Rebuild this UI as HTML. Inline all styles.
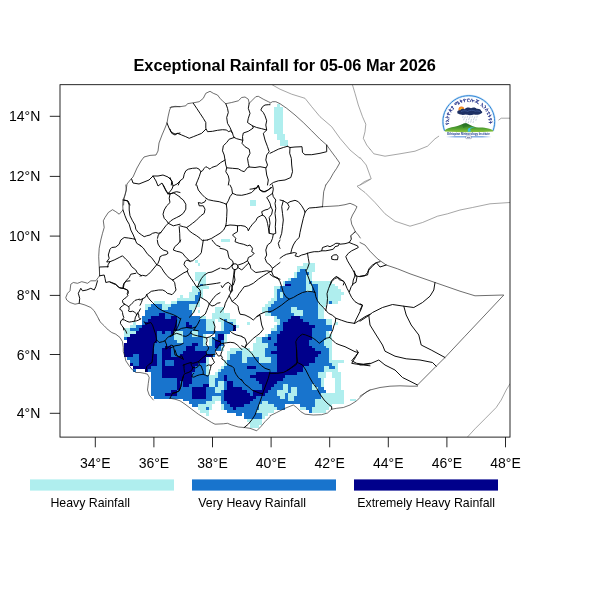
<!DOCTYPE html>
<html><head><meta charset="utf-8"><title>Exceptional Rainfall</title>
<style>
html,body{margin:0;padding:0;background:#fff;}
body{width:600px;height:600px;overflow:hidden;position:relative;font-family:"Liberation Sans",Arial,Helvetica,sans-serif;}
svg{position:absolute;left:0;top:0;}
text{font-family:"Liberation Sans",Arial,Helvetica,sans-serif;fill:#000;}
.t{font-size:14px;}
.lg{font-size:12.33px;}
.ttl{font-size:16.35px;font-weight:bold;}
</style></head><body>
<svg width="600" height="600" viewBox="0 0 600 600">
<rect x="0" y="0" width="600" height="600" fill="#fff"/>
<defs><clipPath id="fc"><rect x="60.0" y="84.7" width="450.0" height="352.4"/></clipPath></defs>

<g shape-rendering="crispEdges">
<rect x="276.66" y="104.08" width="2.93" height="3.02" fill="#afeeee"/>
<rect x="273.73" y="107.10" width="8.79" height="3.02" fill="#afeeee"/>
<rect x="273.73" y="110.12" width="8.79" height="3.02" fill="#afeeee"/>
<rect x="273.73" y="113.15" width="8.79" height="3.02" fill="#afeeee"/>
<rect x="273.73" y="116.17" width="8.79" height="3.02" fill="#afeeee"/>
<rect x="273.73" y="119.18" width="8.79" height="3.02" fill="#afeeee"/>
<rect x="273.73" y="122.20" width="8.79" height="3.02" fill="#afeeee"/>
<rect x="273.73" y="125.22" width="8.79" height="3.02" fill="#afeeee"/>
<rect x="273.73" y="128.23" width="8.79" height="3.01" fill="#afeeee"/>
<rect x="273.73" y="131.25" width="8.79" height="3.01" fill="#afeeee"/>
<rect x="276.66" y="134.26" width="8.79" height="3.01" fill="#afeeee"/>
<rect x="276.66" y="137.27" width="8.79" height="3.01" fill="#afeeee"/>
<rect x="279.59" y="140.28" width="8.79" height="3.01" fill="#afeeee"/>
<rect x="279.59" y="143.29" width="8.79" height="3.01" fill="#afeeee"/>
<rect x="250.29" y="200.24" width="5.86" height="2.99" fill="#afeeee"/>
<rect x="250.29" y="203.23" width="5.86" height="2.99" fill="#afeeee"/>
<rect x="220.99" y="238.99" width="8.79" height="2.97" fill="#afeeee"/>
<rect x="194.62" y="259.78" width="2.93" height="2.97" fill="#afeeee"/>
<rect x="197.55" y="262.75" width="2.93" height="2.97" fill="#afeeee"/>
<rect x="303.03" y="262.75" width="11.72" height="2.97" fill="#afeeee"/>
<rect x="297.17" y="265.72" width="17.58" height="2.97" fill="#afeeee"/>
<rect x="297.17" y="268.68" width="2.93" height="2.97" fill="#afeeee"/>
<rect x="300.10" y="268.68" width="5.86" height="2.97" fill="#1874cd"/>
<rect x="305.96" y="268.68" width="8.79" height="2.97" fill="#afeeee"/>
<rect x="194.62" y="271.65" width="11.72" height="2.96" fill="#afeeee"/>
<rect x="294.24" y="271.65" width="2.93" height="2.96" fill="#afeeee"/>
<rect x="297.17" y="271.65" width="11.72" height="2.96" fill="#1874cd"/>
<rect x="308.89" y="271.65" width="2.93" height="2.96" fill="#afeeee"/>
<rect x="194.62" y="274.61" width="11.72" height="2.96" fill="#afeeee"/>
<rect x="294.24" y="274.61" width="2.93" height="2.96" fill="#afeeee"/>
<rect x="297.17" y="274.61" width="8.79" height="2.96" fill="#1874cd"/>
<rect x="305.96" y="274.61" width="5.86" height="2.96" fill="#afeeee"/>
<rect x="194.62" y="277.58" width="11.72" height="2.96" fill="#afeeee"/>
<rect x="288.38" y="277.58" width="2.93" height="2.96" fill="#afeeee"/>
<rect x="291.31" y="277.58" width="14.65" height="2.96" fill="#1874cd"/>
<rect x="305.96" y="277.58" width="5.86" height="2.96" fill="#afeeee"/>
<rect x="197.55" y="280.54" width="8.79" height="2.96" fill="#afeeee"/>
<rect x="282.52" y="280.54" width="2.93" height="2.96" fill="#afeeee"/>
<rect x="285.45" y="280.54" width="20.51" height="2.96" fill="#1874cd"/>
<rect x="305.96" y="280.54" width="2.93" height="2.96" fill="#afeeee"/>
<rect x="308.89" y="280.54" width="2.93" height="2.96" fill="#1874cd"/>
<rect x="311.82" y="280.54" width="20.51" height="2.96" fill="#afeeee"/>
<rect x="197.55" y="283.50" width="2.93" height="2.96" fill="#afeeee"/>
<rect x="200.48" y="283.50" width="2.93" height="2.96" fill="#1874cd"/>
<rect x="203.41" y="283.50" width="2.93" height="2.96" fill="#afeeee"/>
<rect x="282.52" y="283.50" width="2.93" height="2.96" fill="#afeeee"/>
<rect x="285.45" y="283.50" width="5.86" height="2.96" fill="#00008b"/>
<rect x="291.31" y="283.50" width="14.65" height="2.96" fill="#1874cd"/>
<rect x="305.96" y="283.50" width="5.86" height="2.96" fill="#afeeee"/>
<rect x="311.82" y="283.50" width="5.86" height="2.96" fill="#1874cd"/>
<rect x="317.68" y="283.50" width="17.58" height="2.96" fill="#afeeee"/>
<rect x="191.69" y="286.46" width="17.58" height="2.96" fill="#afeeee"/>
<rect x="273.73" y="286.46" width="5.86" height="2.96" fill="#afeeee"/>
<rect x="279.59" y="286.46" width="26.37" height="2.96" fill="#1874cd"/>
<rect x="305.96" y="286.46" width="5.86" height="2.96" fill="#afeeee"/>
<rect x="311.82" y="286.46" width="5.86" height="2.96" fill="#1874cd"/>
<rect x="317.68" y="286.46" width="20.51" height="2.96" fill="#afeeee"/>
<rect x="191.69" y="289.42" width="11.72" height="2.96" fill="#afeeee"/>
<rect x="273.73" y="289.42" width="2.93" height="2.96" fill="#afeeee"/>
<rect x="276.66" y="289.42" width="29.30" height="2.96" fill="#1874cd"/>
<rect x="305.96" y="289.42" width="5.86" height="2.96" fill="#afeeee"/>
<rect x="311.82" y="289.42" width="5.86" height="2.96" fill="#1874cd"/>
<rect x="317.68" y="289.42" width="23.44" height="2.96" fill="#afeeee"/>
<rect x="188.76" y="292.38" width="8.79" height="2.96" fill="#afeeee"/>
<rect x="197.55" y="292.38" width="2.93" height="2.96" fill="#1874cd"/>
<rect x="200.48" y="292.38" width="2.93" height="2.96" fill="#afeeee"/>
<rect x="273.73" y="292.38" width="2.93" height="2.96" fill="#afeeee"/>
<rect x="276.66" y="292.38" width="2.93" height="2.96" fill="#1874cd"/>
<rect x="279.59" y="292.38" width="2.93" height="2.96" fill="#afeeee"/>
<rect x="282.52" y="292.38" width="35.16" height="2.96" fill="#1874cd"/>
<rect x="317.68" y="292.38" width="26.37" height="2.96" fill="#afeeee"/>
<rect x="179.97" y="295.34" width="2.93" height="2.96" fill="#afeeee"/>
<rect x="188.76" y="295.34" width="5.86" height="2.96" fill="#afeeee"/>
<rect x="194.62" y="295.34" width="5.86" height="2.96" fill="#1874cd"/>
<rect x="200.48" y="295.34" width="2.93" height="2.96" fill="#afeeee"/>
<rect x="273.73" y="295.34" width="2.93" height="2.96" fill="#afeeee"/>
<rect x="276.66" y="295.34" width="2.93" height="2.96" fill="#1874cd"/>
<rect x="279.59" y="295.34" width="2.93" height="2.96" fill="#afeeee"/>
<rect x="282.52" y="295.34" width="35.16" height="2.96" fill="#1874cd"/>
<rect x="317.68" y="295.34" width="23.44" height="2.96" fill="#afeeee"/>
<rect x="177.04" y="298.30" width="17.58" height="2.96" fill="#afeeee"/>
<rect x="194.62" y="298.30" width="5.86" height="2.96" fill="#1874cd"/>
<rect x="270.80" y="298.30" width="5.86" height="2.96" fill="#afeeee"/>
<rect x="276.66" y="298.30" width="41.02" height="2.96" fill="#1874cd"/>
<rect x="317.68" y="298.30" width="23.44" height="2.96" fill="#afeeee"/>
<rect x="153.60" y="301.26" width="11.72" height="2.96" fill="#afeeee"/>
<rect x="171.18" y="301.26" width="5.86" height="2.96" fill="#afeeee"/>
<rect x="177.04" y="301.26" width="20.51" height="2.96" fill="#1874cd"/>
<rect x="197.55" y="301.26" width="2.93" height="2.96" fill="#afeeee"/>
<rect x="267.87" y="301.26" width="5.86" height="2.96" fill="#afeeee"/>
<rect x="273.73" y="301.26" width="43.95" height="2.96" fill="#1874cd"/>
<rect x="317.68" y="301.26" width="11.72" height="2.96" fill="#afeeee"/>
<rect x="329.40" y="301.26" width="2.93" height="2.96" fill="#1874cd"/>
<rect x="332.33" y="301.26" width="5.86" height="2.96" fill="#afeeee"/>
<rect x="144.81" y="304.22" width="5.86" height="2.96" fill="#afeeee"/>
<rect x="150.67" y="304.22" width="11.72" height="2.96" fill="#1874cd"/>
<rect x="162.39" y="304.22" width="8.79" height="2.96" fill="#afeeee"/>
<rect x="171.18" y="304.22" width="17.58" height="2.96" fill="#1874cd"/>
<rect x="188.76" y="304.22" width="11.72" height="2.96" fill="#afeeee"/>
<rect x="264.94" y="304.22" width="5.86" height="2.96" fill="#afeeee"/>
<rect x="270.80" y="304.22" width="46.88" height="2.96" fill="#1874cd"/>
<rect x="317.68" y="304.22" width="8.79" height="2.96" fill="#afeeee"/>
<rect x="144.81" y="307.17" width="2.93" height="2.96" fill="#afeeee"/>
<rect x="147.74" y="307.17" width="14.65" height="2.96" fill="#1874cd"/>
<rect x="162.39" y="307.17" width="5.86" height="2.96" fill="#afeeee"/>
<rect x="168.25" y="307.17" width="20.51" height="2.96" fill="#1874cd"/>
<rect x="188.76" y="307.17" width="5.86" height="2.96" fill="#afeeee"/>
<rect x="215.13" y="307.17" width="8.79" height="2.96" fill="#afeeee"/>
<rect x="262.01" y="307.17" width="5.86" height="2.96" fill="#afeeee"/>
<rect x="267.87" y="307.17" width="23.44" height="2.96" fill="#1874cd"/>
<rect x="291.31" y="307.17" width="5.86" height="2.96" fill="#afeeee"/>
<rect x="297.17" y="307.17" width="20.51" height="2.96" fill="#1874cd"/>
<rect x="317.68" y="307.17" width="5.86" height="2.96" fill="#afeeee"/>
<rect x="144.81" y="310.13" width="46.88" height="2.95" fill="#1874cd"/>
<rect x="191.69" y="310.13" width="2.93" height="2.95" fill="#afeeee"/>
<rect x="197.55" y="310.13" width="2.93" height="2.95" fill="#afeeee"/>
<rect x="215.13" y="310.13" width="8.79" height="2.95" fill="#afeeee"/>
<rect x="262.01" y="310.13" width="5.86" height="2.95" fill="#afeeee"/>
<rect x="267.87" y="310.13" width="23.44" height="2.95" fill="#1874cd"/>
<rect x="291.31" y="310.13" width="11.72" height="2.95" fill="#afeeee"/>
<rect x="303.03" y="310.13" width="14.65" height="2.95" fill="#1874cd"/>
<rect x="317.68" y="310.13" width="5.86" height="2.95" fill="#afeeee"/>
<rect x="144.81" y="313.08" width="14.65" height="2.95" fill="#1874cd"/>
<rect x="159.46" y="313.08" width="5.86" height="2.95" fill="#00008b"/>
<rect x="165.32" y="313.08" width="26.37" height="2.95" fill="#1874cd"/>
<rect x="212.20" y="313.08" width="17.58" height="2.95" fill="#afeeee"/>
<rect x="264.94" y="313.08" width="5.86" height="2.95" fill="#afeeee"/>
<rect x="270.80" y="313.08" width="23.44" height="2.95" fill="#1874cd"/>
<rect x="294.24" y="313.08" width="8.79" height="2.95" fill="#afeeee"/>
<rect x="303.03" y="313.08" width="14.65" height="2.95" fill="#1874cd"/>
<rect x="317.68" y="313.08" width="5.86" height="2.95" fill="#afeeee"/>
<rect x="141.88" y="316.04" width="8.79" height="2.95" fill="#1874cd"/>
<rect x="150.67" y="316.04" width="14.65" height="2.95" fill="#00008b"/>
<rect x="165.32" y="316.04" width="5.86" height="2.95" fill="#1874cd"/>
<rect x="171.18" y="316.04" width="5.86" height="2.95" fill="#00008b"/>
<rect x="177.04" y="316.04" width="23.44" height="2.95" fill="#1874cd"/>
<rect x="200.48" y="316.04" width="5.86" height="2.95" fill="#afeeee"/>
<rect x="212.20" y="316.04" width="17.58" height="2.95" fill="#afeeee"/>
<rect x="273.73" y="316.04" width="2.93" height="2.95" fill="#afeeee"/>
<rect x="276.66" y="316.04" width="14.65" height="2.95" fill="#1874cd"/>
<rect x="291.31" y="316.04" width="8.79" height="2.95" fill="#00008b"/>
<rect x="300.10" y="316.04" width="17.58" height="2.95" fill="#1874cd"/>
<rect x="317.68" y="316.04" width="5.86" height="2.95" fill="#afeeee"/>
<rect x="141.88" y="318.99" width="5.86" height="2.95" fill="#1874cd"/>
<rect x="147.74" y="318.99" width="29.30" height="2.95" fill="#00008b"/>
<rect x="177.04" y="318.99" width="29.30" height="2.95" fill="#1874cd"/>
<rect x="206.34" y="318.99" width="8.79" height="2.95" fill="#afeeee"/>
<rect x="218.06" y="318.99" width="5.86" height="2.95" fill="#afeeee"/>
<rect x="223.92" y="318.99" width="2.93" height="2.95" fill="#1874cd"/>
<rect x="226.85" y="318.99" width="8.79" height="2.95" fill="#afeeee"/>
<rect x="273.73" y="318.99" width="5.86" height="2.95" fill="#afeeee"/>
<rect x="279.59" y="318.99" width="8.79" height="2.95" fill="#1874cd"/>
<rect x="288.38" y="318.99" width="14.65" height="2.95" fill="#00008b"/>
<rect x="303.03" y="318.99" width="23.44" height="2.95" fill="#1874cd"/>
<rect x="326.47" y="318.99" width="5.86" height="2.95" fill="#afeeee"/>
<rect x="133.09" y="321.94" width="2.93" height="2.95" fill="#afeeee"/>
<rect x="141.88" y="321.94" width="2.93" height="2.95" fill="#1874cd"/>
<rect x="144.81" y="321.94" width="32.23" height="2.95" fill="#00008b"/>
<rect x="177.04" y="321.94" width="8.79" height="2.95" fill="#1874cd"/>
<rect x="185.83" y="321.94" width="2.93" height="2.95" fill="#00008b"/>
<rect x="188.76" y="321.94" width="17.58" height="2.95" fill="#1874cd"/>
<rect x="206.34" y="321.94" width="8.79" height="2.95" fill="#afeeee"/>
<rect x="220.99" y="321.94" width="2.93" height="2.95" fill="#afeeee"/>
<rect x="223.92" y="321.94" width="8.79" height="2.95" fill="#1874cd"/>
<rect x="232.71" y="321.94" width="2.93" height="2.95" fill="#afeeee"/>
<rect x="247.36" y="321.94" width="2.93" height="2.95" fill="#afeeee"/>
<rect x="276.66" y="321.94" width="2.93" height="2.95" fill="#afeeee"/>
<rect x="279.59" y="321.94" width="2.93" height="2.95" fill="#1874cd"/>
<rect x="282.52" y="321.94" width="26.37" height="2.95" fill="#00008b"/>
<rect x="308.89" y="321.94" width="17.58" height="2.95" fill="#1874cd"/>
<rect x="326.47" y="321.94" width="5.86" height="2.95" fill="#afeeee"/>
<rect x="335.26" y="321.94" width="2.93" height="2.95" fill="#afeeee"/>
<rect x="130.16" y="324.90" width="5.86" height="2.95" fill="#afeeee"/>
<rect x="136.02" y="324.90" width="5.86" height="2.95" fill="#1874cd"/>
<rect x="141.88" y="324.90" width="35.16" height="2.95" fill="#00008b"/>
<rect x="177.04" y="324.90" width="8.79" height="2.95" fill="#1874cd"/>
<rect x="185.83" y="324.90" width="5.86" height="2.95" fill="#00008b"/>
<rect x="191.69" y="324.90" width="14.65" height="2.95" fill="#1874cd"/>
<rect x="206.34" y="324.90" width="8.79" height="2.95" fill="#afeeee"/>
<rect x="220.99" y="324.90" width="2.93" height="2.95" fill="#afeeee"/>
<rect x="223.92" y="324.90" width="8.79" height="2.95" fill="#1874cd"/>
<rect x="232.71" y="324.90" width="2.93" height="2.95" fill="#00008b"/>
<rect x="235.64" y="324.90" width="2.93" height="2.95" fill="#afeeee"/>
<rect x="273.73" y="324.90" width="2.93" height="2.95" fill="#afeeee"/>
<rect x="276.66" y="324.90" width="5.86" height="2.95" fill="#1874cd"/>
<rect x="282.52" y="324.90" width="32.23" height="2.95" fill="#00008b"/>
<rect x="314.75" y="324.90" width="17.58" height="2.95" fill="#1874cd"/>
<rect x="124.30" y="327.85" width="5.86" height="2.95" fill="#afeeee"/>
<rect x="130.16" y="327.85" width="8.79" height="2.95" fill="#1874cd"/>
<rect x="138.95" y="327.85" width="38.09" height="2.95" fill="#00008b"/>
<rect x="177.04" y="327.85" width="29.30" height="2.95" fill="#1874cd"/>
<rect x="206.34" y="327.85" width="8.79" height="2.95" fill="#afeeee"/>
<rect x="220.99" y="327.85" width="2.93" height="2.95" fill="#afeeee"/>
<rect x="223.92" y="327.85" width="8.79" height="2.95" fill="#1874cd"/>
<rect x="232.71" y="327.85" width="2.93" height="2.95" fill="#00008b"/>
<rect x="270.80" y="327.85" width="5.86" height="2.95" fill="#afeeee"/>
<rect x="276.66" y="327.85" width="5.86" height="2.95" fill="#1874cd"/>
<rect x="282.52" y="327.85" width="29.30" height="2.95" fill="#00008b"/>
<rect x="311.82" y="327.85" width="20.51" height="2.95" fill="#1874cd"/>
<rect x="124.30" y="330.80" width="11.72" height="2.95" fill="#afeeee"/>
<rect x="136.02" y="330.80" width="20.51" height="2.95" fill="#00008b"/>
<rect x="156.53" y="330.80" width="5.86" height="2.95" fill="#1874cd"/>
<rect x="162.39" y="330.80" width="2.93" height="2.95" fill="#00008b"/>
<rect x="165.32" y="330.80" width="5.86" height="2.95" fill="#1874cd"/>
<rect x="171.18" y="330.80" width="2.93" height="2.95" fill="#00008b"/>
<rect x="174.11" y="330.80" width="8.79" height="2.95" fill="#afeeee"/>
<rect x="182.90" y="330.80" width="8.79" height="2.95" fill="#1874cd"/>
<rect x="191.69" y="330.80" width="5.86" height="2.95" fill="#afeeee"/>
<rect x="197.55" y="330.80" width="32.23" height="2.95" fill="#1874cd"/>
<rect x="270.80" y="330.80" width="8.79" height="2.95" fill="#1874cd"/>
<rect x="279.59" y="330.80" width="32.23" height="2.95" fill="#00008b"/>
<rect x="311.82" y="330.80" width="14.65" height="2.95" fill="#1874cd"/>
<rect x="326.47" y="330.80" width="2.93" height="2.95" fill="#afeeee"/>
<rect x="124.30" y="333.75" width="5.86" height="2.95" fill="#afeeee"/>
<rect x="130.16" y="333.75" width="26.37" height="2.95" fill="#00008b"/>
<rect x="156.53" y="333.75" width="17.58" height="2.95" fill="#1874cd"/>
<rect x="174.11" y="333.75" width="8.79" height="2.95" fill="#afeeee"/>
<rect x="182.90" y="333.75" width="8.79" height="2.95" fill="#1874cd"/>
<rect x="191.69" y="333.75" width="5.86" height="2.95" fill="#afeeee"/>
<rect x="197.55" y="333.75" width="5.86" height="2.95" fill="#1874cd"/>
<rect x="203.41" y="333.75" width="2.93" height="2.95" fill="#afeeee"/>
<rect x="215.13" y="333.75" width="2.93" height="2.95" fill="#1874cd"/>
<rect x="218.06" y="333.75" width="5.86" height="2.95" fill="#00008b"/>
<rect x="223.92" y="333.75" width="2.93" height="2.95" fill="#afeeee"/>
<rect x="264.94" y="333.75" width="2.93" height="2.95" fill="#afeeee"/>
<rect x="267.87" y="333.75" width="8.79" height="2.95" fill="#1874cd"/>
<rect x="276.66" y="333.75" width="35.16" height="2.95" fill="#00008b"/>
<rect x="311.82" y="333.75" width="14.65" height="2.95" fill="#1874cd"/>
<rect x="326.47" y="333.75" width="5.86" height="2.95" fill="#afeeee"/>
<rect x="124.30" y="336.70" width="2.93" height="2.95" fill="#1874cd"/>
<rect x="127.23" y="336.70" width="29.30" height="2.95" fill="#00008b"/>
<rect x="156.53" y="336.70" width="17.58" height="2.95" fill="#1874cd"/>
<rect x="174.11" y="336.70" width="8.79" height="2.95" fill="#afeeee"/>
<rect x="182.90" y="336.70" width="20.51" height="2.95" fill="#1874cd"/>
<rect x="203.41" y="336.70" width="2.93" height="2.95" fill="#afeeee"/>
<rect x="209.27" y="336.70" width="2.93" height="2.95" fill="#afeeee"/>
<rect x="212.20" y="336.70" width="5.86" height="2.95" fill="#1874cd"/>
<rect x="218.06" y="336.70" width="5.86" height="2.95" fill="#00008b"/>
<rect x="223.92" y="336.70" width="2.93" height="2.95" fill="#afeeee"/>
<rect x="256.15" y="336.70" width="5.86" height="2.95" fill="#afeeee"/>
<rect x="262.01" y="336.70" width="5.86" height="2.95" fill="#1874cd"/>
<rect x="267.87" y="336.70" width="2.93" height="2.95" fill="#00008b"/>
<rect x="270.80" y="336.70" width="5.86" height="2.95" fill="#1874cd"/>
<rect x="276.66" y="336.70" width="35.16" height="2.95" fill="#00008b"/>
<rect x="311.82" y="336.70" width="14.65" height="2.95" fill="#1874cd"/>
<rect x="326.47" y="336.70" width="5.86" height="2.95" fill="#afeeee"/>
<rect x="127.23" y="339.65" width="29.30" height="2.95" fill="#00008b"/>
<rect x="156.53" y="339.65" width="20.51" height="2.95" fill="#1874cd"/>
<rect x="177.04" y="339.65" width="5.86" height="2.95" fill="#afeeee"/>
<rect x="182.90" y="339.65" width="20.51" height="2.95" fill="#1874cd"/>
<rect x="203.41" y="339.65" width="2.93" height="2.95" fill="#afeeee"/>
<rect x="209.27" y="339.65" width="2.93" height="2.95" fill="#afeeee"/>
<rect x="212.20" y="339.65" width="2.93" height="2.95" fill="#1874cd"/>
<rect x="215.13" y="339.65" width="5.86" height="2.95" fill="#00008b"/>
<rect x="220.99" y="339.65" width="2.93" height="2.95" fill="#1874cd"/>
<rect x="223.92" y="339.65" width="2.93" height="2.95" fill="#afeeee"/>
<rect x="256.15" y="339.65" width="5.86" height="2.95" fill="#afeeee"/>
<rect x="262.01" y="339.65" width="14.65" height="2.95" fill="#1874cd"/>
<rect x="276.66" y="339.65" width="32.23" height="2.95" fill="#00008b"/>
<rect x="308.89" y="339.65" width="14.65" height="2.95" fill="#1874cd"/>
<rect x="323.54" y="339.65" width="8.79" height="2.95" fill="#afeeee"/>
<rect x="124.30" y="342.60" width="29.30" height="2.95" fill="#00008b"/>
<rect x="153.60" y="342.60" width="38.09" height="2.95" fill="#1874cd"/>
<rect x="191.69" y="342.60" width="5.86" height="2.95" fill="#00008b"/>
<rect x="197.55" y="342.60" width="5.86" height="2.95" fill="#1874cd"/>
<rect x="203.41" y="342.60" width="2.93" height="2.95" fill="#afeeee"/>
<rect x="209.27" y="342.60" width="2.93" height="2.95" fill="#afeeee"/>
<rect x="212.20" y="342.60" width="2.93" height="2.95" fill="#1874cd"/>
<rect x="215.13" y="342.60" width="5.86" height="2.95" fill="#00008b"/>
<rect x="220.99" y="342.60" width="2.93" height="2.95" fill="#1874cd"/>
<rect x="253.22" y="342.60" width="14.65" height="2.95" fill="#afeeee"/>
<rect x="267.87" y="342.60" width="5.86" height="2.95" fill="#1874cd"/>
<rect x="273.73" y="342.60" width="35.16" height="2.95" fill="#00008b"/>
<rect x="308.89" y="342.60" width="14.65" height="2.95" fill="#1874cd"/>
<rect x="323.54" y="342.60" width="8.79" height="2.95" fill="#afeeee"/>
<rect x="124.30" y="345.55" width="29.30" height="2.95" fill="#00008b"/>
<rect x="153.60" y="345.55" width="11.72" height="2.95" fill="#1874cd"/>
<rect x="165.32" y="345.55" width="5.86" height="2.95" fill="#00008b"/>
<rect x="171.18" y="345.55" width="14.65" height="2.95" fill="#1874cd"/>
<rect x="185.83" y="345.55" width="8.79" height="2.95" fill="#00008b"/>
<rect x="194.62" y="345.55" width="20.51" height="2.95" fill="#1874cd"/>
<rect x="215.13" y="345.55" width="2.93" height="2.95" fill="#00008b"/>
<rect x="218.06" y="345.55" width="2.93" height="2.95" fill="#1874cd"/>
<rect x="220.99" y="345.55" width="2.93" height="2.95" fill="#afeeee"/>
<rect x="253.22" y="345.55" width="14.65" height="2.95" fill="#afeeee"/>
<rect x="267.87" y="345.55" width="8.79" height="2.95" fill="#1874cd"/>
<rect x="276.66" y="345.55" width="35.16" height="2.95" fill="#00008b"/>
<rect x="311.82" y="345.55" width="14.65" height="2.95" fill="#1874cd"/>
<rect x="326.47" y="345.55" width="5.86" height="2.95" fill="#afeeee"/>
<rect x="124.30" y="348.49" width="29.30" height="2.95" fill="#00008b"/>
<rect x="153.60" y="348.49" width="8.79" height="2.95" fill="#1874cd"/>
<rect x="162.39" y="348.49" width="8.79" height="2.95" fill="#00008b"/>
<rect x="171.18" y="348.49" width="14.65" height="2.95" fill="#1874cd"/>
<rect x="185.83" y="348.49" width="8.79" height="2.95" fill="#00008b"/>
<rect x="194.62" y="348.49" width="26.37" height="2.95" fill="#1874cd"/>
<rect x="220.99" y="348.49" width="2.93" height="2.95" fill="#afeeee"/>
<rect x="229.78" y="348.49" width="20.51" height="2.95" fill="#afeeee"/>
<rect x="253.22" y="348.49" width="11.72" height="2.95" fill="#afeeee"/>
<rect x="264.94" y="348.49" width="11.72" height="2.95" fill="#1874cd"/>
<rect x="276.66" y="348.49" width="38.09" height="2.95" fill="#00008b"/>
<rect x="314.75" y="348.49" width="14.65" height="2.95" fill="#1874cd"/>
<rect x="329.40" y="348.49" width="2.93" height="2.95" fill="#afeeee"/>
<rect x="124.30" y="351.44" width="29.30" height="2.95" fill="#00008b"/>
<rect x="153.60" y="351.44" width="8.79" height="2.95" fill="#1874cd"/>
<rect x="162.39" y="351.44" width="8.79" height="2.95" fill="#00008b"/>
<rect x="171.18" y="351.44" width="11.72" height="2.95" fill="#1874cd"/>
<rect x="182.90" y="351.44" width="23.44" height="2.95" fill="#00008b"/>
<rect x="206.34" y="351.44" width="8.79" height="2.95" fill="#1874cd"/>
<rect x="226.85" y="351.44" width="8.79" height="2.95" fill="#afeeee"/>
<rect x="235.64" y="351.44" width="5.86" height="2.95" fill="#1874cd"/>
<rect x="241.50" y="351.44" width="23.44" height="2.95" fill="#afeeee"/>
<rect x="264.94" y="351.44" width="5.86" height="2.95" fill="#1874cd"/>
<rect x="270.80" y="351.44" width="49.81" height="2.95" fill="#00008b"/>
<rect x="320.61" y="351.44" width="8.79" height="2.95" fill="#1874cd"/>
<rect x="329.40" y="351.44" width="2.93" height="2.95" fill="#afeeee"/>
<rect x="124.30" y="354.39" width="8.79" height="2.95" fill="#00008b"/>
<rect x="133.09" y="354.39" width="5.86" height="2.95" fill="#1874cd"/>
<rect x="138.95" y="354.39" width="17.58" height="2.95" fill="#00008b"/>
<rect x="156.53" y="354.39" width="5.86" height="2.95" fill="#1874cd"/>
<rect x="162.39" y="354.39" width="8.79" height="2.95" fill="#00008b"/>
<rect x="171.18" y="354.39" width="8.79" height="2.95" fill="#1874cd"/>
<rect x="179.97" y="354.39" width="32.23" height="2.95" fill="#00008b"/>
<rect x="212.20" y="354.39" width="2.93" height="2.95" fill="#1874cd"/>
<rect x="226.85" y="354.39" width="2.93" height="2.95" fill="#afeeee"/>
<rect x="229.78" y="354.39" width="11.72" height="2.95" fill="#1874cd"/>
<rect x="241.50" y="354.39" width="23.44" height="2.95" fill="#afeeee"/>
<rect x="264.94" y="354.39" width="11.72" height="2.95" fill="#1874cd"/>
<rect x="276.66" y="354.39" width="41.02" height="2.95" fill="#00008b"/>
<rect x="317.68" y="354.39" width="11.72" height="2.95" fill="#1874cd"/>
<rect x="329.40" y="354.39" width="2.93" height="2.95" fill="#afeeee"/>
<rect x="127.23" y="357.33" width="11.72" height="2.95" fill="#1874cd"/>
<rect x="138.95" y="357.33" width="17.58" height="2.95" fill="#00008b"/>
<rect x="156.53" y="357.33" width="5.86" height="2.95" fill="#1874cd"/>
<rect x="162.39" y="357.33" width="43.95" height="2.95" fill="#00008b"/>
<rect x="206.34" y="357.33" width="2.93" height="2.95" fill="#afeeee"/>
<rect x="226.85" y="357.33" width="2.93" height="2.95" fill="#afeeee"/>
<rect x="229.78" y="357.33" width="11.72" height="2.95" fill="#1874cd"/>
<rect x="241.50" y="357.33" width="5.86" height="2.95" fill="#afeeee"/>
<rect x="247.36" y="357.33" width="11.72" height="2.95" fill="#1874cd"/>
<rect x="259.08" y="357.33" width="11.72" height="2.95" fill="#afeeee"/>
<rect x="270.80" y="357.33" width="5.86" height="2.95" fill="#1874cd"/>
<rect x="276.66" y="357.33" width="38.09" height="2.95" fill="#00008b"/>
<rect x="314.75" y="357.33" width="14.65" height="2.95" fill="#1874cd"/>
<rect x="329.40" y="357.33" width="2.93" height="2.95" fill="#afeeee"/>
<rect x="130.16" y="360.28" width="8.79" height="2.94" fill="#1874cd"/>
<rect x="138.95" y="360.28" width="17.58" height="2.94" fill="#00008b"/>
<rect x="156.53" y="360.28" width="5.86" height="2.94" fill="#1874cd"/>
<rect x="162.39" y="360.28" width="2.93" height="2.94" fill="#00008b"/>
<rect x="165.32" y="360.28" width="8.79" height="2.94" fill="#1874cd"/>
<rect x="174.11" y="360.28" width="32.23" height="2.94" fill="#00008b"/>
<rect x="206.34" y="360.28" width="2.93" height="2.94" fill="#afeeee"/>
<rect x="223.92" y="360.28" width="2.93" height="2.94" fill="#afeeee"/>
<rect x="226.85" y="360.28" width="14.65" height="2.94" fill="#1874cd"/>
<rect x="241.50" y="360.28" width="5.86" height="2.94" fill="#afeeee"/>
<rect x="247.36" y="360.28" width="11.72" height="2.94" fill="#1874cd"/>
<rect x="259.08" y="360.28" width="11.72" height="2.94" fill="#afeeee"/>
<rect x="270.80" y="360.28" width="5.86" height="2.94" fill="#1874cd"/>
<rect x="276.66" y="360.28" width="38.09" height="2.94" fill="#00008b"/>
<rect x="314.75" y="360.28" width="14.65" height="2.94" fill="#1874cd"/>
<rect x="329.40" y="360.28" width="14.65" height="2.94" fill="#afeeee"/>
<rect x="130.16" y="363.22" width="2.93" height="2.94" fill="#00008b"/>
<rect x="133.09" y="363.22" width="5.86" height="2.94" fill="#1874cd"/>
<rect x="138.95" y="363.22" width="17.58" height="2.94" fill="#00008b"/>
<rect x="156.53" y="363.22" width="5.86" height="2.94" fill="#1874cd"/>
<rect x="162.39" y="363.22" width="2.93" height="2.94" fill="#00008b"/>
<rect x="165.32" y="363.22" width="8.79" height="2.94" fill="#1874cd"/>
<rect x="174.11" y="363.22" width="23.44" height="2.94" fill="#00008b"/>
<rect x="197.55" y="363.22" width="8.79" height="2.94" fill="#1874cd"/>
<rect x="206.34" y="363.22" width="2.93" height="2.94" fill="#afeeee"/>
<rect x="223.92" y="363.22" width="2.93" height="2.94" fill="#afeeee"/>
<rect x="226.85" y="363.22" width="49.81" height="2.94" fill="#1874cd"/>
<rect x="276.66" y="363.22" width="32.23" height="2.94" fill="#00008b"/>
<rect x="308.89" y="363.22" width="23.44" height="2.94" fill="#1874cd"/>
<rect x="332.33" y="363.22" width="5.86" height="2.94" fill="#afeeee"/>
<rect x="133.09" y="366.17" width="17.58" height="2.94" fill="#00008b"/>
<rect x="150.67" y="366.17" width="11.72" height="2.94" fill="#1874cd"/>
<rect x="162.39" y="366.17" width="32.23" height="2.94" fill="#00008b"/>
<rect x="194.62" y="366.17" width="11.72" height="2.94" fill="#1874cd"/>
<rect x="206.34" y="366.17" width="2.93" height="2.94" fill="#afeeee"/>
<rect x="220.99" y="366.17" width="2.93" height="2.94" fill="#afeeee"/>
<rect x="223.92" y="366.17" width="23.44" height="2.94" fill="#1874cd"/>
<rect x="247.36" y="366.17" width="8.79" height="2.94" fill="#00008b"/>
<rect x="256.15" y="366.17" width="20.51" height="2.94" fill="#1874cd"/>
<rect x="276.66" y="366.17" width="26.37" height="2.94" fill="#00008b"/>
<rect x="303.03" y="366.17" width="20.51" height="2.94" fill="#1874cd"/>
<rect x="323.54" y="366.17" width="5.86" height="2.94" fill="#afeeee"/>
<rect x="329.40" y="366.17" width="5.86" height="2.94" fill="#1874cd"/>
<rect x="335.26" y="366.17" width="2.93" height="2.94" fill="#afeeee"/>
<rect x="133.09" y="369.11" width="2.93" height="2.94" fill="#1874cd"/>
<rect x="144.81" y="369.11" width="2.93" height="2.94" fill="#00008b"/>
<rect x="147.74" y="369.11" width="14.65" height="2.94" fill="#1874cd"/>
<rect x="162.39" y="369.11" width="32.23" height="2.94" fill="#00008b"/>
<rect x="194.62" y="369.11" width="11.72" height="2.94" fill="#1874cd"/>
<rect x="206.34" y="369.11" width="2.93" height="2.94" fill="#afeeee"/>
<rect x="218.06" y="369.11" width="2.93" height="2.94" fill="#afeeee"/>
<rect x="220.99" y="369.11" width="55.67" height="2.94" fill="#1874cd"/>
<rect x="276.66" y="369.11" width="26.37" height="2.94" fill="#00008b"/>
<rect x="303.03" y="369.11" width="20.51" height="2.94" fill="#1874cd"/>
<rect x="323.54" y="369.11" width="14.65" height="2.94" fill="#afeeee"/>
<rect x="150.67" y="372.05" width="11.72" height="2.94" fill="#1874cd"/>
<rect x="162.39" y="372.05" width="29.30" height="2.94" fill="#00008b"/>
<rect x="191.69" y="372.05" width="14.65" height="2.94" fill="#1874cd"/>
<rect x="206.34" y="372.05" width="2.93" height="2.94" fill="#afeeee"/>
<rect x="215.13" y="372.05" width="2.93" height="2.94" fill="#afeeee"/>
<rect x="218.06" y="372.05" width="38.09" height="2.94" fill="#1874cd"/>
<rect x="256.15" y="372.05" width="41.02" height="2.94" fill="#00008b"/>
<rect x="297.17" y="372.05" width="20.51" height="2.94" fill="#1874cd"/>
<rect x="317.68" y="372.05" width="8.79" height="2.94" fill="#afeeee"/>
<rect x="332.33" y="372.05" width="8.79" height="2.94" fill="#afeeee"/>
<rect x="150.67" y="375.00" width="11.72" height="2.94" fill="#1874cd"/>
<rect x="162.39" y="375.00" width="29.30" height="2.94" fill="#00008b"/>
<rect x="191.69" y="375.00" width="17.58" height="2.94" fill="#1874cd"/>
<rect x="209.27" y="375.00" width="8.79" height="2.94" fill="#afeeee"/>
<rect x="218.06" y="375.00" width="5.86" height="2.94" fill="#1874cd"/>
<rect x="223.92" y="375.00" width="2.93" height="2.94" fill="#00008b"/>
<rect x="226.85" y="375.00" width="23.44" height="2.94" fill="#1874cd"/>
<rect x="250.29" y="375.00" width="35.16" height="2.94" fill="#00008b"/>
<rect x="285.45" y="375.00" width="32.23" height="2.94" fill="#1874cd"/>
<rect x="317.68" y="375.00" width="8.79" height="2.94" fill="#afeeee"/>
<rect x="332.33" y="375.00" width="8.79" height="2.94" fill="#afeeee"/>
<rect x="150.67" y="377.94" width="26.37" height="2.94" fill="#1874cd"/>
<rect x="177.04" y="377.94" width="14.65" height="2.94" fill="#00008b"/>
<rect x="191.69" y="377.94" width="17.58" height="2.94" fill="#1874cd"/>
<rect x="209.27" y="377.94" width="5.86" height="2.94" fill="#afeeee"/>
<rect x="215.13" y="377.94" width="8.79" height="2.94" fill="#1874cd"/>
<rect x="223.92" y="377.94" width="2.93" height="2.94" fill="#00008b"/>
<rect x="226.85" y="377.94" width="29.30" height="2.94" fill="#1874cd"/>
<rect x="256.15" y="377.94" width="26.37" height="2.94" fill="#00008b"/>
<rect x="282.52" y="377.94" width="38.09" height="2.94" fill="#1874cd"/>
<rect x="320.61" y="377.94" width="2.93" height="2.94" fill="#afeeee"/>
<rect x="335.26" y="377.94" width="5.86" height="2.94" fill="#afeeee"/>
<rect x="150.67" y="380.88" width="26.37" height="2.94" fill="#1874cd"/>
<rect x="177.04" y="380.88" width="2.93" height="2.94" fill="#00008b"/>
<rect x="179.97" y="380.88" width="2.93" height="2.94" fill="#1874cd"/>
<rect x="182.90" y="380.88" width="8.79" height="2.94" fill="#00008b"/>
<rect x="191.69" y="380.88" width="17.58" height="2.94" fill="#1874cd"/>
<rect x="209.27" y="380.88" width="5.86" height="2.94" fill="#afeeee"/>
<rect x="215.13" y="380.88" width="2.93" height="2.94" fill="#1874cd"/>
<rect x="218.06" y="380.88" width="5.86" height="2.94" fill="#afeeee"/>
<rect x="223.92" y="380.88" width="2.93" height="2.94" fill="#1874cd"/>
<rect x="226.85" y="380.88" width="5.86" height="2.94" fill="#00008b"/>
<rect x="232.71" y="380.88" width="26.37" height="2.94" fill="#1874cd"/>
<rect x="259.08" y="380.88" width="17.58" height="2.94" fill="#00008b"/>
<rect x="276.66" y="380.88" width="43.95" height="2.94" fill="#1874cd"/>
<rect x="320.61" y="380.88" width="2.93" height="2.94" fill="#afeeee"/>
<rect x="335.26" y="380.88" width="5.86" height="2.94" fill="#afeeee"/>
<rect x="150.67" y="383.82" width="26.37" height="2.94" fill="#1874cd"/>
<rect x="177.04" y="383.82" width="2.93" height="2.94" fill="#00008b"/>
<rect x="179.97" y="383.82" width="2.93" height="2.94" fill="#1874cd"/>
<rect x="182.90" y="383.82" width="5.86" height="2.94" fill="#00008b"/>
<rect x="188.76" y="383.82" width="14.65" height="2.94" fill="#1874cd"/>
<rect x="203.41" y="383.82" width="5.86" height="2.94" fill="#00008b"/>
<rect x="209.27" y="383.82" width="5.86" height="2.94" fill="#afeeee"/>
<rect x="215.13" y="383.82" width="2.93" height="2.94" fill="#1874cd"/>
<rect x="218.06" y="383.82" width="5.86" height="2.94" fill="#afeeee"/>
<rect x="223.92" y="383.82" width="2.93" height="2.94" fill="#1874cd"/>
<rect x="226.85" y="383.82" width="5.86" height="2.94" fill="#00008b"/>
<rect x="232.71" y="383.82" width="29.30" height="2.94" fill="#1874cd"/>
<rect x="262.01" y="383.82" width="11.72" height="2.94" fill="#00008b"/>
<rect x="273.73" y="383.82" width="8.79" height="2.94" fill="#1874cd"/>
<rect x="282.52" y="383.82" width="5.86" height="2.94" fill="#afeeee"/>
<rect x="288.38" y="383.82" width="23.44" height="2.94" fill="#1874cd"/>
<rect x="311.82" y="383.82" width="2.93" height="2.94" fill="#afeeee"/>
<rect x="314.75" y="383.82" width="5.86" height="2.94" fill="#1874cd"/>
<rect x="320.61" y="383.82" width="2.93" height="2.94" fill="#afeeee"/>
<rect x="335.26" y="383.82" width="5.86" height="2.94" fill="#afeeee"/>
<rect x="150.67" y="386.76" width="26.37" height="2.94" fill="#1874cd"/>
<rect x="177.04" y="386.76" width="2.93" height="2.94" fill="#00008b"/>
<rect x="179.97" y="386.76" width="11.72" height="2.94" fill="#1874cd"/>
<rect x="191.69" y="386.76" width="14.65" height="2.94" fill="#00008b"/>
<rect x="206.34" y="386.76" width="8.79" height="2.94" fill="#1874cd"/>
<rect x="215.13" y="386.76" width="8.79" height="2.94" fill="#afeeee"/>
<rect x="223.92" y="386.76" width="2.93" height="2.94" fill="#1874cd"/>
<rect x="226.85" y="386.76" width="14.65" height="2.94" fill="#00008b"/>
<rect x="241.50" y="386.76" width="20.51" height="2.94" fill="#1874cd"/>
<rect x="262.01" y="386.76" width="8.79" height="2.94" fill="#00008b"/>
<rect x="270.80" y="386.76" width="11.72" height="2.94" fill="#1874cd"/>
<rect x="282.52" y="386.76" width="5.86" height="2.94" fill="#afeeee"/>
<rect x="288.38" y="386.76" width="2.93" height="2.94" fill="#1874cd"/>
<rect x="291.31" y="386.76" width="5.86" height="2.94" fill="#afeeee"/>
<rect x="297.17" y="386.76" width="14.65" height="2.94" fill="#1874cd"/>
<rect x="311.82" y="386.76" width="5.86" height="2.94" fill="#afeeee"/>
<rect x="317.68" y="386.76" width="5.86" height="2.94" fill="#1874cd"/>
<rect x="335.26" y="386.76" width="5.86" height="2.94" fill="#afeeee"/>
<rect x="150.67" y="389.70" width="20.51" height="2.94" fill="#1874cd"/>
<rect x="171.18" y="389.70" width="5.86" height="2.94" fill="#00008b"/>
<rect x="177.04" y="389.70" width="14.65" height="2.94" fill="#1874cd"/>
<rect x="191.69" y="389.70" width="14.65" height="2.94" fill="#00008b"/>
<rect x="206.34" y="389.70" width="8.79" height="2.94" fill="#1874cd"/>
<rect x="215.13" y="389.70" width="5.86" height="2.94" fill="#afeeee"/>
<rect x="220.99" y="389.70" width="2.93" height="2.94" fill="#1874cd"/>
<rect x="223.92" y="389.70" width="23.44" height="2.94" fill="#00008b"/>
<rect x="247.36" y="389.70" width="5.86" height="2.94" fill="#1874cd"/>
<rect x="253.22" y="389.70" width="14.65" height="2.94" fill="#00008b"/>
<rect x="267.87" y="389.70" width="8.79" height="2.94" fill="#1874cd"/>
<rect x="276.66" y="389.70" width="11.72" height="2.94" fill="#afeeee"/>
<rect x="288.38" y="389.70" width="2.93" height="2.94" fill="#1874cd"/>
<rect x="291.31" y="389.70" width="5.86" height="2.94" fill="#afeeee"/>
<rect x="297.17" y="389.70" width="29.30" height="2.94" fill="#1874cd"/>
<rect x="335.26" y="389.70" width="8.79" height="2.94" fill="#afeeee"/>
<rect x="150.67" y="392.64" width="14.65" height="2.94" fill="#1874cd"/>
<rect x="165.32" y="392.64" width="11.72" height="2.94" fill="#00008b"/>
<rect x="177.04" y="392.64" width="14.65" height="2.94" fill="#1874cd"/>
<rect x="191.69" y="392.64" width="14.65" height="2.94" fill="#00008b"/>
<rect x="206.34" y="392.64" width="17.58" height="2.94" fill="#1874cd"/>
<rect x="223.92" y="392.64" width="26.37" height="2.94" fill="#00008b"/>
<rect x="250.29" y="392.64" width="2.93" height="2.94" fill="#1874cd"/>
<rect x="253.22" y="392.64" width="11.72" height="2.94" fill="#00008b"/>
<rect x="264.94" y="392.64" width="11.72" height="2.94" fill="#1874cd"/>
<rect x="276.66" y="392.64" width="8.79" height="2.94" fill="#afeeee"/>
<rect x="285.45" y="392.64" width="2.93" height="2.94" fill="#1874cd"/>
<rect x="288.38" y="392.64" width="8.79" height="2.94" fill="#afeeee"/>
<rect x="297.17" y="392.64" width="23.44" height="2.94" fill="#1874cd"/>
<rect x="320.61" y="392.64" width="23.44" height="2.94" fill="#afeeee"/>
<rect x="153.60" y="395.58" width="38.09" height="2.94" fill="#1874cd"/>
<rect x="191.69" y="395.58" width="14.65" height="2.94" fill="#00008b"/>
<rect x="206.34" y="395.58" width="5.86" height="2.94" fill="#1874cd"/>
<rect x="212.20" y="395.58" width="8.79" height="2.94" fill="#afeeee"/>
<rect x="220.99" y="395.58" width="2.93" height="2.94" fill="#1874cd"/>
<rect x="223.92" y="395.58" width="32.23" height="2.94" fill="#00008b"/>
<rect x="256.15" y="395.58" width="23.44" height="2.94" fill="#1874cd"/>
<rect x="279.59" y="395.58" width="5.86" height="2.94" fill="#afeeee"/>
<rect x="285.45" y="395.58" width="2.93" height="2.94" fill="#1874cd"/>
<rect x="288.38" y="395.58" width="5.86" height="2.94" fill="#afeeee"/>
<rect x="294.24" y="395.58" width="26.37" height="2.94" fill="#1874cd"/>
<rect x="320.61" y="395.58" width="23.44" height="2.94" fill="#afeeee"/>
<rect x="182.90" y="398.52" width="29.30" height="2.94" fill="#1874cd"/>
<rect x="212.20" y="398.52" width="8.79" height="2.94" fill="#afeeee"/>
<rect x="220.99" y="398.52" width="2.93" height="2.94" fill="#1874cd"/>
<rect x="223.92" y="398.52" width="29.30" height="2.94" fill="#00008b"/>
<rect x="253.22" y="398.52" width="35.16" height="2.94" fill="#1874cd"/>
<rect x="288.38" y="398.52" width="5.86" height="2.94" fill="#afeeee"/>
<rect x="294.24" y="398.52" width="20.51" height="2.94" fill="#1874cd"/>
<rect x="314.75" y="398.52" width="29.30" height="2.94" fill="#afeeee"/>
<rect x="349.91" y="398.52" width="5.86" height="2.94" fill="#afeeee"/>
<rect x="188.76" y="401.46" width="17.58" height="2.94" fill="#1874cd"/>
<rect x="206.34" y="401.46" width="8.79" height="2.94" fill="#afeeee"/>
<rect x="220.99" y="401.46" width="5.86" height="2.94" fill="#1874cd"/>
<rect x="226.85" y="401.46" width="23.44" height="2.94" fill="#00008b"/>
<rect x="250.29" y="401.46" width="11.72" height="2.94" fill="#1874cd"/>
<rect x="262.01" y="401.46" width="5.86" height="2.94" fill="#afeeee"/>
<rect x="267.87" y="401.46" width="46.88" height="2.94" fill="#1874cd"/>
<rect x="314.75" y="401.46" width="29.30" height="2.94" fill="#afeeee"/>
<rect x="191.69" y="404.40" width="5.86" height="2.94" fill="#1874cd"/>
<rect x="197.55" y="404.40" width="14.65" height="2.94" fill="#afeeee"/>
<rect x="220.99" y="404.40" width="2.93" height="2.94" fill="#afeeee"/>
<rect x="223.92" y="404.40" width="5.86" height="2.94" fill="#1874cd"/>
<rect x="229.78" y="404.40" width="14.65" height="2.94" fill="#00008b"/>
<rect x="244.43" y="404.40" width="14.65" height="2.94" fill="#1874cd"/>
<rect x="259.08" y="404.40" width="14.65" height="2.94" fill="#afeeee"/>
<rect x="273.73" y="404.40" width="11.72" height="2.94" fill="#1874cd"/>
<rect x="300.10" y="404.40" width="14.65" height="2.94" fill="#1874cd"/>
<rect x="314.75" y="404.40" width="17.58" height="2.94" fill="#afeeee"/>
<rect x="197.55" y="407.34" width="8.79" height="2.94" fill="#afeeee"/>
<rect x="206.34" y="407.34" width="2.93" height="2.94" fill="#1874cd"/>
<rect x="209.27" y="407.34" width="2.93" height="2.94" fill="#afeeee"/>
<rect x="220.99" y="407.34" width="2.93" height="2.94" fill="#afeeee"/>
<rect x="223.92" y="407.34" width="8.79" height="2.94" fill="#1874cd"/>
<rect x="232.71" y="407.34" width="2.93" height="2.94" fill="#00008b"/>
<rect x="235.64" y="407.34" width="23.44" height="2.94" fill="#1874cd"/>
<rect x="259.08" y="407.34" width="17.58" height="2.94" fill="#afeeee"/>
<rect x="276.66" y="407.34" width="8.79" height="2.94" fill="#1874cd"/>
<rect x="300.10" y="407.34" width="5.86" height="2.94" fill="#afeeee"/>
<rect x="305.96" y="407.34" width="5.86" height="2.94" fill="#1874cd"/>
<rect x="311.82" y="407.34" width="17.58" height="2.94" fill="#afeeee"/>
<rect x="200.48" y="410.28" width="8.79" height="2.94" fill="#afeeee"/>
<rect x="226.85" y="410.28" width="29.30" height="2.94" fill="#1874cd"/>
<rect x="256.15" y="410.28" width="17.58" height="2.94" fill="#afeeee"/>
<rect x="308.89" y="410.28" width="2.93" height="2.94" fill="#1874cd"/>
<rect x="311.82" y="410.28" width="14.65" height="2.94" fill="#afeeee"/>
<rect x="206.34" y="413.21" width="2.93" height="2.94" fill="#afeeee"/>
<rect x="235.64" y="413.21" width="5.86" height="2.94" fill="#1874cd"/>
<rect x="244.43" y="413.21" width="17.58" height="2.94" fill="#1874cd"/>
<rect x="262.01" y="413.21" width="5.86" height="2.94" fill="#afeeee"/>
<rect x="244.43" y="416.15" width="17.58" height="2.94" fill="#1874cd"/>
<rect x="262.01" y="416.15" width="2.93" height="2.94" fill="#afeeee"/>
<rect x="247.36" y="419.09" width="14.65" height="2.94" fill="#afeeee"/>
<rect x="250.29" y="422.02" width="11.72" height="2.94" fill="#afeeee"/>
<rect x="250.29" y="424.96" width="8.79" height="2.94" fill="#afeeee"/>
</g>
<g clip-path="url(#fc)" fill="none" stroke-linejoin="round" stroke-linecap="round">
<path stroke="#808080" stroke-width="0.7" d="M272.5 85.0 L280.0 89.2 L291.7 94.2 L305.0 98.3 L311.7 106.7 L320.0 116.7 L331.7 126.7 L340.0 138.3 L350.0 150.0 L360.0 158.3 M352.5 85.0 L355.0 93.3 L358.3 105.0 L362.5 116.7 L365.8 124.2 L365.0 131.7 L363.3 138.3 L366.7 145.0 L370.0 149.2 M370.0 179.2 L364.2 181.7 L360.0 185.0 M370.0 149.0 L373.8 153.8 L385.0 156.2 L400.0 153.8 L415.0 151.2 L427.5 146.2 L435.0 138.8 L438.8 136.2 M498.8 120.0 L501.2 118.2 L510.0 118.2 M360.0 157.5 L366.2 165.0 L371.2 178.8 L365.0 182.5 L360.0 185.0 L357.0 186.2 L360.0 188.8 M360.0 188.8 L365.0 192.5 L375.0 202.5 L385.0 213.8 L395.0 221.2 L410.0 226.2 L422.5 222.5 L437.5 216.2 L447.5 213.8 L460.0 210.0 L472.5 207.5 L490.0 203.8 L510.0 202.5 M510.0 383.8 L506.2 390.0 L501.2 400.0 L496.2 407.5 L485.0 418.8 L475.0 428.8 L467.5 437.0"/>
<path stroke="#2a2a2a" stroke-width="0.68" d="M123.6 205.0 L124.0 199.0 L126.0 191.0 L127.0 184.0 L131.0 179.0 L133.0 177.0 L137.0 168.0 L141.0 161.0 L144.0 157.0 L150.0 155.4 L156.0 155.0 L158.0 151.0 L159.0 143.0 L162.0 135.0 L165.0 128.0 L167.0 123.0 L168.0 117.0 L169.6 110.0 L171.0 107.0 L180.0 106.6 M170.0 107.5 L175.0 106.3 L180.0 106.7 L185.8 105.8 L187.5 103.7 L191.7 103.0 L195.0 102.5 L199.2 101.7 L203.3 98.3 L205.8 93.3 L210.0 91.3 L213.3 93.3 L217.5 95.0 L220.0 98.3 L223.3 101.7 L225.8 103.7 L231.7 102.5 L238.3 100.8 L241.7 97.5 L245.0 97.0 L248.3 99.2 L249.2 103.3 L251.7 100.8 L255.8 96.7 L258.3 96.3 L263.3 99.2 L268.3 101.7 L270.0 102.5 M270.0 103.3 L272.5 101.7 L275.8 101.7 L280.0 103.7 L286.7 108.3 L295.0 115.0 L303.3 122.5 L311.7 130.8 L320.0 139.2 L326.7 145.0 L330.8 150.8 L335.8 157.5 L339.7 163.0 L336.7 168.3 L333.3 173.3 L330.0 179.2 L325.8 185.0 M99.5 267.5 L99.5 275.8 L98.3 277.5 L95.8 280.8 L90.8 280.8 L87.5 283.3 L85.0 282.5 L81.7 281.7 L77.5 283.3 L73.3 282.5 L70.8 284.2 L70.0 290.8 L67.5 293.3 L65.8 297.5 L66.7 300.0 L70.0 302.5 L75.0 304.2 L79.2 303.3 L85.0 305.0 L90.8 307.5 L94.2 310.8 L97.5 316.7 L99.2 320.0 M125.8 185.0 L126.3 190.0 L125.0 195.0 L123.0 200.0 L122.7 205.0 L123.0 210.0 L119.2 214.2 L115.8 211.7 L112.5 209.7 L108.3 212.5 L105.0 217.5 L103.3 220.8 L104.2 227.5 L102.5 233.3 L100.8 240.0 L99.2 248.3 L98.7 256.7 L99.2 266.7 L99.7 275.8 M325.8 185.0 L323.7 191.7 L323.0 200.0 L322.5 206.7 M322.5 206.7 L330.0 206.3 L338.3 205.8 L345.0 204.7 L350.0 203.3 L354.2 205.0 L357.0 206.7 L355.0 210.8 L352.5 215.0 L350.8 219.2 L351.7 224.2 L354.2 229.2 L355.3 231.7 L358.3 235.0 L360.3 238.0 M360.0 242.5 L365.0 245.0 L370.0 251.2 L377.5 258.8 L386.2 265.0 L397.5 268.8 L410.0 273.8 L435.0 282.5 L460.0 291.2 L475.0 295.8 L503.8 295.0 L485.0 315.0 L465.0 336.2 L445.0 357.5 L436.2 366.2 L417.5 385.0 M417.5 386.2 L410.0 386.2 L400.0 385.8 L390.0 386.2 L380.0 387.5 L370.0 390.0 L362.5 394.5 L360.0 396.2 M99.2 320.0 L100.0 321.7 L104.2 325.8 L108.3 330.0 L111.7 332.5 L115.8 334.2 L120.0 337.5 L122.5 341.7 L123.3 347.5 L123.3 351.7 L125.0 356.7 L125.8 360.8 L129.2 365.8 L132.5 370.0 L135.8 372.5 L140.0 372.5 L144.2 373.3 L147.5 374.2 L149.2 377.5 L148.3 383.3 L147.5 390.0 L149.2 395.0 L153.3 400.0 M170.0 398.3 L175.0 399.2 L180.0 400.8 L185.0 404.2 L191.7 409.2 L198.3 414.2 L205.0 418.3 L211.7 422.5 L215.0 424.2 L223.3 423.8 L227.5 423.3 L231.7 425.0 L238.3 427.0 L244.2 427.5 L250.0 428.3 L256.7 430.8 L260.8 426.7 L265.0 421.7 L270.0 416.7 M270.0 415.8 L276.7 412.5 L285.0 408.3 L293.3 405.0 L296.7 407.5 L300.8 411.7 L305.0 414.2 L313.3 415.0 L321.7 414.7 L327.5 413.0 L331.7 409.2 L336.7 408.3 L343.3 407.5 L350.0 405.0 L356.7 400.8 L361.7 395.8 L366.7 391.7 L370.0 390.0"/>
<path stroke="#000" stroke-width="0.95" d="M167.0 123.0 L169.0 128.0 L171.0 132.0 L175.0 134.0 L180.0 133.0 M131.6 179.0 L133.0 183.0 L139.0 184.0 L144.0 182.0 L149.0 180.0 L153.0 176.0 L158.0 176.0 L163.0 175.0 L168.0 177.0 L172.0 181.0 L173.0 186.0 L177.0 184.0 L180.0 181.0 M153.0 176.0 L156.0 181.0 L158.0 186.0 L162.0 183.0 L164.0 187.0 L166.0 191.0 L168.0 194.0 L172.0 189.0 L173.0 186.0 M168.0 194.0 L174.0 193.0 L180.0 197.0 M124.0 200.0 L128.0 201.0 L130.0 205.0 M193.3 103.3 L196.7 108.3 L200.0 113.3 L203.3 118.3 L205.8 122.5 L205.8 128.3 L207.5 131.7 L212.5 131.3 L217.5 130.3 L222.5 129.7 L226.7 130.0 L228.3 131.7 L230.8 130.8 L232.5 133.3 L233.3 135.8 L234.2 137.5 M170.0 129.2 L171.7 133.3 L175.0 135.0 L177.5 133.3 L181.7 135.0 L185.8 136.7 L189.2 138.3 L193.3 136.7 L197.5 135.0 L201.7 133.3 L205.8 129.2 M225.8 103.7 L227.5 108.3 L228.3 112.5 L226.7 117.5 L227.5 123.3 L230.0 127.5 L232.5 133.3 M249.2 103.3 L248.3 108.3 L250.0 113.3 L248.3 118.3 L247.5 122.5 L252.5 125.8 L253.3 128.0 L248.3 131.3 L243.3 133.0 L242.5 136.7 L242.8 140.3 L236.7 138.7 L234.2 137.5 M252.5 125.8 L256.7 127.5 L261.7 128.7 L266.7 130.0 L265.8 125.0 L266.7 120.8 L265.0 115.8 L263.3 112.5 L260.8 110.0 L262.5 106.7 L265.0 105.0 L268.3 104.7 L270.0 104.7 M266.7 130.0 L263.3 133.3 L265.0 140.0 L267.5 146.7 L269.2 151.7 L266.7 155.0 L265.8 160.0 L267.5 165.0 L265.8 168.3 L266.7 175.0 L268.3 180.0 L267.5 185.0 M234.2 137.5 L229.2 139.2 L226.7 142.5 L223.3 145.8 L222.5 150.8 L224.2 155.0 L225.0 160.0 L225.8 165.0 L226.7 167.8 L232.5 168.3 L238.3 168.8 L241.7 170.8 L244.2 171.7 L247.5 167.5 L249.2 167.0 L248.3 163.3 L247.5 158.3 L250.0 153.3 L249.2 149.2 L245.0 146.7 L242.0 143.3 L242.8 140.3 M249.2 167.0 L255.0 167.5 L260.0 166.7 L265.8 167.8 M226.7 167.8 L225.8 171.7 L228.3 175.8 L229.2 180.0 L228.3 185.0 M225.0 160.0 L220.8 162.5 L216.7 165.8 L211.7 167.5 L210.0 169.2 L207.5 167.5 L205.8 166.7 L204.2 168.3 L202.5 170.8 L200.8 171.7 L199.2 169.2 L196.7 168.0 L192.5 168.3 L188.3 169.2 L185.8 170.8 L184.2 174.2 L183.3 178.3 L180.0 180.8 L178.3 185.0 M200.8 171.7 L199.2 176.7 L197.5 180.8 L195.8 185.0 M170.0 177.5 L171.7 181.7 L171.3 185.0 M326.7 145.0 L326.7 151.7 L320.0 153.3 L311.7 154.7 L305.0 154.7 L302.5 152.5 L302.0 146.7 L295.0 147.0 L290.0 147.5 L287.5 146.3 M270.0 153.3 L273.3 151.7 L278.3 149.2 L283.3 147.5 L287.5 146.3 M290.0 147.5 L289.7 153.3 L291.3 158.3 L291.7 165.0 L292.5 171.7 L290.8 177.5 L285.0 180.0 L278.3 180.8 L273.3 182.5 L270.0 185.0 M79.2 303.3 L79.7 298.3 L78.3 293.3 L80.8 288.3 L82.5 290.8 L86.7 290.0 L90.8 288.3 L94.2 290.0 L95.8 286.7 L97.5 280.8 M99.5 275.8 L104.2 275.0 L105.0 278.3 L105.8 282.5 L109.2 281.7 L111.7 282.5 L115.8 284.2 L119.2 287.5 L123.3 288.3 L127.5 290.0 L128.3 293.3 M123.3 288.3 L124.2 283.3 L126.7 280.0 L129.2 277.5 L130.8 274.2 L135.8 273.3 M99.7 267.0 L108.3 266.7 M107.5 267.0 L108.3 264.2 L110.0 261.7 L106.7 262.0 L109.2 258.3 L108.3 255.0 L110.0 249.2 L111.7 247.5 L115.8 247.0 L119.2 244.2 L120.8 240.0 L124.2 237.5 L128.3 238.0 L132.5 238.7 L135.0 239.2 M123.0 210.0 L125.0 215.8 L126.7 220.0 L129.2 224.2 L130.8 230.0 L133.3 235.0 L135.0 239.2 M123.0 200.0 L127.5 200.8 L129.2 205.0 L129.2 210.0 L130.0 215.8 L132.5 220.8 L135.0 225.0 L135.8 229.2 L138.3 232.5 L141.7 235.0 L144.2 236.7 L146.7 235.8 L150.0 235.0 L152.5 233.3 L155.8 232.5 L158.3 233.3 L160.8 232.5 M135.0 239.2 L136.7 243.3 L140.8 245.8 M157.5 238.3 L158.3 235.0 L160.8 232.5 L163.3 229.2 L165.8 225.8 L168.3 223.3 L170.8 220.8 L173.3 219.2 L176.7 217.5 L180.0 215.8 M168.3 223.3 L166.7 220.8 L164.2 218.3 L163.0 214.2 L164.2 210.0 L166.7 205.8 L170.0 202.5 L169.2 198.3 L170.0 194.2 L166.7 191.7 L165.0 188.3 L163.3 185.0 M170.0 194.2 L173.3 192.5 L176.7 191.7 L180.0 192.5 M168.3 223.3 L173.3 225.8 L176.7 225.0 L180.0 224.2 M141.7 275.8 L137.5 273.3 L135.8 270.0 L131.7 266.7 L129.2 262.5 L125.8 259.2 L122.5 255.8 L119.2 257.5 L114.2 260.0 L110.0 261.7 M196.7 185.0 L198.3 190.0 L201.7 194.2 L205.0 197.5 L208.3 199.7 L213.3 200.8 L219.2 201.7 L223.3 203.0 L226.3 204.2 M226.3 204.2 L228.3 200.8 L230.0 196.7 L232.5 193.3 L231.7 188.3 L230.0 185.0 M232.5 193.3 L236.7 195.0 L241.7 195.3 L246.7 194.2 L251.7 192.5 L255.0 189.2 M226.3 204.2 L227.0 210.0 L226.7 216.7 L226.3 222.5 L225.8 225.8 M225.8 225.8 L223.7 230.0 L220.0 233.3 L215.8 235.8 L211.7 238.3 L207.5 240.0 M225.8 225.8 L230.0 225.0 L235.0 225.3 L237.5 225.8 L240.8 225.5 L245.0 226.3 L247.5 228.3 L248.3 230.8 L250.0 227.5 L252.5 224.2 L255.8 220.8 L257.5 217.5 L260.8 215.8 L262.5 215.0 M205.8 200.0 L205.0 201.7 L201.7 203.3 L198.3 202.5 L199.2 205.8 L203.3 205.8 L205.0 209.2 L204.2 213.3 L200.8 215.8 L198.3 218.3 L195.8 220.8 L192.5 223.3 L189.2 225.8 L186.7 227.5 M180.0 197.5 L183.3 200.0 L185.8 204.2 L185.8 209.2 L183.3 213.3 L180.0 215.8 M180.0 225.8 L183.3 226.7 L186.7 227.5 L189.2 230.8 L192.5 233.3 L196.7 235.8 L200.0 238.3 L202.5 240.8 M220.0 248.3 L224.2 249.2 L227.5 250.8 L228.3 255.0 L229.2 258.3 L232.5 260.8 L233.3 263.3 M237.5 225.8 L237.5 231.7 L233.3 234.2 L232.5 235.0 L235.8 238.3 L235.0 241.7 L239.2 243.3 L243.3 244.2 L247.5 245.8 L250.0 245.0 L252.5 248.3 L251.7 251.7 L254.2 253.3 L251.7 255.8 L248.3 257.5 L247.5 260.8 L243.3 263.3 L238.3 265.0 M238.0 266.7 L237.2 268.8 L235.0 269.7 L232.8 268.8 L232.0 266.7 L232.8 264.5 L235.0 263.7 L237.2 264.5 L238.0 266.7 M233.3 263.3 L230.0 267.5 L226.7 269.2 L221.7 268.3 M262.5 215.0 L261.7 211.7 L265.0 210.0 L268.3 209.2 L270.8 206.7 L270.0 203.3 L268.3 200.0 L266.7 197.5 L269.2 195.8 L272.5 193.3 L273.3 189.2 L272.5 185.0 M270.8 206.7 L272.5 210.0 L271.7 214.2 L269.2 217.5 L270.0 223.3 L269.2 228.3 L269.2 233.3 L273.3 234.2 L275.8 233.3 L275.3 226.7 L275.8 220.0 L275.0 213.3 L275.8 208.3 L275.0 203.3 L275.8 200.0 L273.3 196.7 L272.5 193.3 M262.5 215.0 L265.0 216.7 L266.7 220.0 L267.5 223.3 L268.3 227.5 L269.2 233.3 M273.3 234.2 L272.5 238.3 L270.8 242.5 L267.5 245.0 L265.8 250.0 L266.7 255.0 L265.0 258.3 L266.7 262.5 L270.0 265.0 L272.5 268.3 L271.7 271.7 L273.3 275.8 L276.7 278.3 L280.0 279.2 M247.5 260.8 L250.0 265.0 L250.8 268.3 L253.3 270.8 L255.8 272.5 L261.7 271.7 L266.7 270.8 L271.7 271.7 M238.0 267.5 L241.7 270.0 L245.0 266.7 L248.3 263.3 L250.0 265.0 M280.0 240.0 L278.3 243.3 L279.2 246.7 L280.0 248.3 M280.0 262.5 L276.7 265.0 L272.5 268.3 M235.0 269.7 L234.2 275.0 L235.0 280.0 L233.3 285.0 M322.5 206.7 L315.8 207.5 L309.2 208.0 L306.7 210.0 L305.0 212.5 M355.3 231.7 L353.3 233.3 L350.8 235.8 L351.3 239.2 L349.2 242.5 L345.0 243.7 L340.0 244.2 L338.3 243.3 L335.8 243.3 L333.3 245.0 L330.0 246.7 L327.5 245.8 L325.0 246.7 L322.5 247.5 L321.7 250.8 L318.3 251.7 L314.2 251.7 L310.0 252.5 L307.5 253.3 M321.7 250.8 L325.8 250.8 L330.0 250.0 L333.3 249.2 L335.0 246.7 L338.3 245.8 L339.2 243.7 M349.2 242.5 L353.3 244.2 L357.5 245.8 L358.3 247.5 L355.0 249.2 L351.7 250.8 L348.3 253.3 L345.8 256.7 L347.5 260.8 L350.0 265.0 L352.5 269.2 L354.2 272.5 L355.0 275.8 L353.3 280.0 L352.5 285.0 M355.0 275.8 L360.0 276.7 L365.0 275.8 L367.5 272.5 L369.2 268.3 L372.5 265.0 L376.7 262.5 L380.0 261.7 M331.7 256.7 L333.3 255.0 L336.7 254.7 L338.0 256.7 L337.5 259.7 L334.2 259.7 L331.7 259.2 L331.7 256.7 M280.0 200.0 L283.3 200.8 L287.5 203.3 L289.2 206.7 L287.5 210.0 M287.5 203.3 L290.0 201.7 L295.0 200.3 L298.3 201.7 L301.7 205.8 L304.2 210.0 L305.0 212.5 L303.3 218.3 L301.7 225.0 L300.0 232.5 L299.2 237.5 L295.8 240.8 L293.3 245.0 L291.7 249.2 L290.8 253.3 M280.0 258.3 L283.3 255.8 L286.7 254.2 L290.8 253.3 L294.2 252.5 L296.7 253.3 L295.0 255.8 L298.3 256.7 L301.7 255.0 L305.0 254.2 L307.5 253.3 M307.5 253.3 L308.3 258.3 L309.2 263.3 L307.5 268.3 L306.3 270.3 M283.3 200.8 L281.7 206.7 L282.5 213.3 L283.3 220.0 L282.5 226.7 L281.7 233.3 L280.0 238.3 M330.0 285.0 L331.7 281.7 L335.0 278.3 L338.3 277.5 L341.7 280.0 L344.2 282.5 L343.3 285.0 M386.2 265.0 L380.0 267.0 L376.2 262.5 L372.5 266.2 L368.8 270.0 L367.5 275.0 L360.0 276.2 M435.0 282.5 L433.8 290.0 L430.0 296.2 L422.5 302.5 L413.8 307.5 L403.8 306.2 L392.5 304.5 L382.5 307.5 L372.5 312.5 L368.8 315.5 L360.0 321.2 M403.8 306.2 L406.2 315.0 L411.2 325.0 L418.8 335.0 L421.2 345.0 L431.2 350.0 L445.0 357.5 M368.8 315.5 L370.0 325.0 L376.2 335.0 L382.5 345.0 L385.0 351.2 L395.0 356.2 L406.2 358.8 L420.0 360.0 L432.5 362.5 L436.2 366.2 M360.0 365.0 L370.0 363.8 L378.8 360.0 L385.0 365.0 L395.0 370.0 L402.5 377.5 L410.0 381.2 L417.5 385.0 M360.0 303.8 L362.5 305.0 L360.0 310.0 M123.3 327.5 L125.8 330.8 L126.7 333.3 M144.2 321.7 L145.8 324.2 L148.3 323.3 L150.8 322.5 L152.5 325.0 L154.2 330.0 L155.8 335.0 L156.7 340.0 L154.2 343.3 L153.3 348.3 L153.0 353.3 L152.5 358.3 L152.0 362.5 L149.2 364.2 L146.7 366.7 L145.8 371.7 M156.7 340.0 L159.2 342.5 L162.5 341.7 L165.0 340.8 L167.5 337.5 L171.7 335.0 L175.0 331.7 L177.5 327.5 L179.2 323.3 L180.8 318.3 M165.0 340.8 L166.7 345.0 L165.8 349.2 L168.3 347.5 L170.8 345.0 L173.3 345.8 L174.2 350.0 L175.0 355.0 L178.3 356.7 L181.7 355.8 L183.3 359.2 M183.3 376.7 L181.7 381.7 L180.8 386.7 L179.2 390.8 L175.8 392.5 L172.5 393.3 M171.7 335.0 L176.7 333.3 L181.7 335.0 M221.3 285.7 L222.3 287.7 L225.3 283.8 L228.2 282.3 L231.2 284.8 L232.2 286.7 L231.2 291.7 L229.2 295.7 L227.2 299.5 L225.3 303.3 L224.3 307.3 L222.3 310.3 L220.3 312.3 M232.2 286.7 L233.0 280.0 L233.8 274.2 L234.2 270.0 M230.0 285.8 L229.2 289.2 L230.8 292.5 L232.5 290.8 L232.0 286.7 M232.2 301.5 L234.2 299.5 L236.7 297.5 L239.0 293.7 L242.0 289.7 L244.2 286.7 L248.3 285.8 L253.3 283.3 L258.3 279.2 L263.3 275.8 L270.0 271.7 M229.2 295.7 L232.2 301.5 L236.2 304.3 L238.0 306.3 L238.7 310.3 L240.0 314.2 L245.0 315.0 L250.0 317.5 L253.3 320.0 L256.7 316.7 L260.0 315.0 L260.8 320.0 L261.7 325.0 L263.3 329.2 L260.0 333.3 L256.7 335.8 L253.3 338.3 L250.0 341.7 L246.7 345.0 L245.0 347.5 L248.3 350.0 L251.7 353.3 L255.0 358.3 L258.3 362.5 L261.7 365.8 L265.0 368.3 L270.0 370.0 M256.7 316.7 L260.0 314.2 L265.8 311.7 L270.0 311.7 M199.7 320.2 L197.7 324.2 L195.8 327.0 L193.8 330.0 M176.7 320.0 L175.8 325.0 L174.2 330.0 L173.3 335.0 L170.0 336.7 M195.8 327.0 L191.7 328.3 L186.7 327.5 L181.7 328.3 L178.3 330.0 L174.2 330.0 M183.3 343.3 L180.0 345.0 L175.0 345.8 L170.0 348.3 M193.8 330.0 L198.3 330.8 M241.7 345.8 L245.0 347.5 M213.3 321.7 L215.0 326.7 L214.2 331.7 M220.0 318.3 L223.3 320.0 L226.7 321.7 L230.0 323.3 L233.3 325.0 L235.0 327.5 L233.3 330.8 M241.7 336.7 L245.0 338.3 L246.7 343.3 L245.0 347.5 M270.0 274.2 L273.3 276.7 L277.5 277.5 L280.0 281.7 L281.7 286.7 L283.3 292.5 L285.8 296.7 L289.2 299.2 L293.3 297.5 L297.5 295.0 L302.5 292.5 L307.5 291.3 L312.5 291.7 L315.0 292.5 M289.2 299.2 L285.8 301.7 L281.7 305.0 L276.7 308.3 L272.5 310.8 L270.0 311.7 M305.8 270.0 L307.5 275.0 L310.0 281.7 L312.5 286.7 L314.2 290.8 L315.0 292.5 L315.8 296.7 L317.5 300.8 L320.0 304.2 L323.3 307.5 L325.8 310.3 M325.8 310.3 L327.0 304.3 L327.5 298.5 L327.0 293.7 L328.5 288.7 L330.5 283.8 L331.5 280.8 L334.3 277.8 L336.8 276.3 L339.3 279.8 L343.3 280.8 L345.2 283.8 L347.2 288.7 L349.2 292.2 L351.2 286.7 L353.2 283.8 L356.0 282.3 L357.0 276.8 L355.2 274.0 L354.2 271.0 M349.2 292.5 L351.7 297.5 L355.0 301.7 L359.2 304.2 L362.5 305.3 L360.8 310.0 L358.3 315.0 L355.8 320.0 L354.2 323.7 L360.0 320.0 L365.0 316.7 L370.0 314.2 M325.8 310.3 L328.5 313.3 L332.3 315.2 L335.8 318.2 L335.3 322.2 L333.8 326.0 L332.8 330.0 L330.8 334.2 L329.7 337.5 M335.8 318.2 L341.3 320.2 L347.2 322.2 L354.2 323.3 M329.7 337.5 L325.8 338.3 L322.5 340.8 L319.2 343.3 L316.7 340.8 L313.3 338.3 L310.0 336.7 L305.8 335.0 L302.5 334.2 L300.0 335.8 L297.5 338.3 L295.8 341.7 L296.3 346.7 L296.7 353.3 L297.0 360.0 L296.7 364.2 L293.3 366.7 L289.2 369.2 L287.5 370.0 M329.7 337.5 L332.5 340.0 L335.8 343.3 L340.0 345.0 L345.0 346.7 L350.0 349.2 L355.0 351.7 L358.3 352.5 L355.8 356.7 L353.3 360.8 L351.7 363.3 L356.7 364.2 L363.3 365.0 L370.0 365.8 M270.0 371.7 L268.3 378.3 L265.8 385.0 L263.3 391.7 L261.7 396.7 L260.0 401.7 L257.5 408.3 L255.0 415.0 L251.7 420.0 L248.3 424.2 L244.2 427.5 M241.0 379.2 L244.8 384.2 L248.8 387.0 L251.8 390.0 L260.0 393.3 L262.5 393.7 M175.0 350.0 L176.7 355.0 L180.0 357.5 L183.3 359.2 M183.3 376.7 L181.7 381.7 L180.8 386.7 L179.2 390.8 L175.8 392.5 L172.5 393.3 L170.0 398.3 M296.7 350.0 L296.7 356.7 L297.5 362.5 L293.3 365.8 L288.3 370.0 L283.3 372.5 L276.7 373.3 L270.0 373.3 M297.5 362.5 L302.5 365.0 L305.8 370.0 L309.2 376.7 L312.5 382.5 L316.7 388.3 L320.0 394.2 L324.2 400.0 L328.3 404.2 L331.7 406.7 L331.7 409.2 M356.7 350.0 L358.3 352.5 L355.0 356.7 L351.7 360.8 L356.7 363.3 L363.3 364.2 L370.0 363.3 M110.0 282.1 L112.5 283.3 L115.8 284.6 L118.3 287.1 L120.8 288.3 L122.9 288.3 L124.6 288.8 L127.5 290.0 L128.3 291.7 L127.1 293.8 L127.9 295.4 L126.2 297.5 L124.2 298.8 L122.5 300.4 L122.9 302.9 L124.6 304.2 M122.9 288.3 L123.3 285.0 L124.6 282.5 L126.7 281.2 L130.0 280.8 M124.6 304.2 L122.5 305.8 L120.8 307.1 L119.6 309.2 L121.7 310.4 L122.5 312.5 L122.9 315.0 L123.8 317.5 L122.5 319.6 L120.8 320.8 L120.4 323.3 L121.7 325.4 L123.3 327.5 L123.8 330.0 M124.6 304.2 L126.7 305.4 L128.8 306.7 L130.4 305.0 L132.1 303.3 L133.8 301.7 L135.0 300.4 L137.5 299.6 L139.6 299.2 M128.8 306.7 L129.2 309.2 L128.3 310.8 L130.0 311.7 L132.5 311.2 L134.6 312.1 L135.8 313.3 L136.7 315.0 L135.4 317.1 L135.0 319.2 L134.6 321.2 M140.4 308.8 L139.2 311.2 L137.9 312.9 L136.7 315.0 M137.9 312.9 L138.8 315.0 L138.8 317.5 L140.4 318.8 M122.5 319.6 L124.6 320.0 L126.7 321.2 L129.2 322.1 L131.7 321.7 L134.6 321.2 L136.7 320.8 L138.8 320.0 L140.8 318.8 M183.0 335.9 L185.9 336.4 L188.9 334.9 L190.4 333.0 L191.4 331.0 M190.4 333.0 L193.8 334.9 L197.8 335.9 L202.7 336.9 L206.6 337.9 L209.6 336.9 L212.5 334.9 L214.5 333.0 L215.0 331.0 M206.6 337.9 L207.1 340.8 L206.1 343.8 L207.1 345.8 L208.6 347.2 L208.1 349.7 L206.1 351.6 L206.6 354.6 L204.1 356.6 L201.7 358.5 L198.7 361.5 L195.8 362.5 L192.8 363.4 L190.9 362.5 L187.9 363.4 L185.0 364.4 L183.0 365.4 M206.6 354.6 L209.6 355.1 L212.5 354.6 L215.4 354.1 M212.5 337.9 L215.4 339.9 L217.4 340.8 L220.4 341.8 L220.9 343.8 L218.4 345.8 L217.9 347.7 L215.9 349.2 L215.4 351.6 L216.9 354.1 L218.4 356.1 L220.9 355.6 L222.3 357.1 L221.8 359.0 L224.3 360.5 L226.3 363.4 L229.2 365.4 L232.2 366.4 L234.1 368.4 L234.6 371.3 L236.1 374.3 L238.1 377.2 L240.0 379.2 L242.0 380.2 M220.9 343.8 L223.3 343.3 L226.3 342.8 L230.2 342.3 L234.1 342.8 L237.1 344.8 L239.5 347.2 L242.0 349.7 M223.3 343.3 L224.3 345.8 L222.3 348.7 L221.8 351.6 L220.9 354.1 L220.9 355.6 M212.5 354.6 L212.0 357.6 L213.5 360.5 L214.5 362.5 L212.5 364.4 L211.0 365.4 L210.5 368.4 L209.6 371.3 L209.1 374.3 L207.6 376.2 L205.6 375.2 L203.2 374.3 L199.7 374.8 L196.8 375.7 L193.8 377.2 L191.8 376.7 L192.3 374.8 L193.8 373.3 M211.0 365.4 L208.6 364.9 L206.6 365.9 M190.9 362.5 L191.4 365.4 L192.8 367.4 L195.8 367.9 L198.2 366.4 L199.2 364.9 L198.7 361.5 M192.8 367.4 L191.8 370.3 L188.9 372.3 L185.9 373.3 L184.0 374.3 L183.0 377.2 M184.0 364.4 L184.0 368.4 L184.5 372.3 M199.2 364.9 L201.2 365.9 L202.2 368.9 L203.2 371.3 L203.2 374.3 M230.2 331.0 L232.2 333.0 L236.1 334.9 L240.0 335.9 L242.0 336.4 M157.3 240.0 L158.0 244.0 L160.0 247.3 L163.3 250.0 L167.3 251.3 L168.0 253.3 L166.0 254.7 L162.7 255.3 L160.0 256.7 L159.3 260.0 L158.0 263.3 L156.7 264.7 M140.0 245.3 L143.3 248.0 L146.0 252.0 L148.0 254.7 L151.3 257.3 L153.3 260.0 L155.3 262.7 L156.7 264.7 M156.7 264.7 L154.0 268.0 L151.3 271.3 L148.7 274.0 L146.0 276.0 L142.7 275.3 L140.0 276.0 M156.7 264.7 L160.0 266.0 L162.0 268.7 L164.0 272.0 L166.7 275.3 L169.3 278.0 L172.7 280.0 M172.7 280.0 L176.0 278.0 L180.0 275.3 L184.0 272.7 L187.3 271.3 L188.0 269.3 L186.0 267.3 L184.0 264.7 L184.7 262.0 L186.7 260.0 L190.0 261.3 L192.7 260.7 L196.0 258.0 L199.3 255.3 L201.3 252.7 L202.0 248.0 L202.7 244.0 L203.3 240.0 M180.7 240.0 L180.0 241.3 L178.0 244.0 L174.7 246.7 L173.3 250.0 L176.7 251.3 L180.0 252.0 L182.7 253.3 L184.7 256.0 L187.3 258.7 L190.0 261.3 M172.7 280.0 L174.7 282.7 L175.3 286.7 L176.0 290.0 L174.0 292.7 L172.0 294.7 L170.0 294.0 L167.3 293.3 L165.3 291.3 L162.7 290.0 L158.7 290.0 L154.7 290.7 L151.3 291.3 L148.7 293.3 L146.7 294.7 M187.3 271.3 L188.7 274.7 L191.3 278.7 L194.0 282.7 L196.0 286.0 L197.3 287.3 M197.3 287.3 L199.3 282.7 L201.3 278.7 L204.0 275.3 L208.0 272.7 L212.0 272.0 L216.0 270.0 L220.0 268.0 M197.3 287.3 L201.3 285.3 L206.7 284.7 L212.0 284.0 L216.7 283.3 L220.0 282.7 M197.3 287.3 L200.0 290.0 L200.7 293.3 L200.0 297.3 L198.7 301.3 L196.7 305.3 L195.3 309.3 L193.3 312.7 L191.3 315.3 L189.3 317.3 M146.7 294.7 L148.0 297.3 L150.0 300.0 L152.7 302.7 L155.3 305.3 L158.0 308.0 L161.3 310.0 L165.3 312.0 L169.3 313.3 L173.3 314.7 L177.3 316.7 L180.0 318.7 M146.7 294.7 L145.3 297.3 L142.7 298.7 L140.0 300.0 M140.0 305.3 L141.3 302.7 L142.7 298.7 M200.7 297.3 L204.0 299.3 L207.3 301.3 L209.3 304.0 L212.0 306.0 L214.7 305.3 L217.3 303.3 L220.0 302.7 M209.3 304.0 L208.0 307.3 L206.7 310.7 L205.3 314.0 L202.7 316.0 L200.0 318.0 M220.0 292.7 L216.7 294.7 L214.0 297.3 L212.0 300.0 L209.3 304.0 M212.0 240.0 L214.0 242.7 L216.7 245.3 L220.0 246.7 M253.9 188.4 L256.3 188.0 L258.3 185.3 L259.7 190.0 L263.0 192.0 L268.3 190.0 L271.0 187.3 M250.0 189.2 L256.7 188.3 L258.3 185.3 L260.0 190.0 L265.0 192.0 L270.0 188.7 L271.7 187.5 M179.2 226.7 L179.7 233.3 L180.0 242.0 M207.5 240.0 L203.3 240.4"/>
</g>

<g id="logo">
<rect x="439.5" y="92" width="58.5" height="49" fill="#fff"/>
<defs>
<linearGradient id="hg" x1="0" y1="0" x2="0" y2="1"><stop offset="0" stop-color="#256f24"/><stop offset="0.55" stop-color="#4f9e2f"/><stop offset="1" stop-color="#8cc63f"/></linearGradient>
<radialGradient id="sg" cx="0.5" cy="0.5" r="0.5"><stop offset="0" stop-color="#ffe04a"/><stop offset="0.55" stop-color="#f8a21c"/><stop offset="1" stop-color="#ee6a24"/></radialGradient>
<path id="arcp" d="M449.4 125.6 A19.8 19.8 0 1 1 488.2 125.6" fill="none"/>
<linearGradient id="lg2" x1="0" y1="0" x2="1" y2="0"><stop offset="0" stop-color="#3a7bd5" stop-opacity="0"/><stop offset="0.2" stop-color="#3a7bd5"/><stop offset="0.8" stop-color="#3a7bd5"/><stop offset="1" stop-color="#3a7bd5" stop-opacity="0"/></linearGradient>
</defs>
<path d="M444.6 130.8 A25.9 25.9 0 1 1 493 130.8" fill="none" stroke="#b9d9f5" stroke-width="2.2" opacity="0.7"/>
<path d="M444.6 130.8 A25.9 25.9 0 1 1 493 130.8" fill="none" stroke="#2f86d6" stroke-width="1.0"/>
<text style="font-family:'Liberation Sans','DejaVu Sans','Noto Sans Ethiopic',sans-serif;font-size:4.9px;font-weight:bold;fill:#1b2a86"><textPath href="#arcp" startOffset="1" textLength="67" lengthAdjust="spacing">የኢትዮጵያ ሜትዮሮሎጂ ኢንስቲትዩት</textPath></text>
<circle cx="461.4" cy="109.4" r="2.9" fill="url(#sg)"/>
<path d="M457.4 112.6 C456.6 110.8 458.6 109.9 460.2 110.3 C460.6 108.6 463.2 108.2 464.6 109.2 C465.6 107.4 469.4 106.9 471 108.2 C472.6 106.9 476 107.2 476.8 108.9 C478.8 108.6 481 109.6 481.2 110.9 C482.8 111.4 482.6 113 481 113.4 C479.6 114.8 476 115 474 114.4 C471.6 115.4 467.6 115.3 466 114.5 C463.6 115.2 460.2 115 459.2 114 C457.8 114 457 113.4 457.4 112.6 Z" fill="#1c2f63"/>
<path d="M461 111.6 C463 110.4 466 110.6 467.6 111.4 C469.6 110 473.6 110 475.4 111.2 C477 110.6 479.4 111 480.2 112" fill="none" stroke="#4a69ad" stroke-width="0.6"/>
<g stroke="#7f93b8" stroke-width="0.45" stroke-linecap="round">
<path d="M463 116.4l-.3 1.1M465.2 116.8l-.3 1.1M467.6 116.2l-.3 1.1M470 116.8l-.3 1.1M472.4 116.2l-.3 1.1M474.8 116.8l-.3 1.1M477.2 116.2l-.3 1.1M464 118.8l-.3 1.1M466.6 119.2l-.3 1.1M469 118.6l-.3 1.1M471.4 119.2l-.3 1.1M473.8 118.8l-.3 1.1M476.2 119.2l-.3 1.1M466 121.4l-.3 1M468.6 121.8l-.3 1M471 121.2l-.3 1M473.4 121.6l-.3 1"/>
</g>
<path d="M444.8 130.2 C447 128 449.4 127.8 451.6 127.2 C455.4 126.6 459.6 125.2 462.6 123.9 C464.2 123.2 466 123 467.4 123.8 C470.2 125.2 473 126.6 476 127.2 C479 127.6 482 127.2 484.6 127.8 C488 128.4 491 129 493.2 130.6 L493.2 131.6 C480 132.4 458 132.4 444.8 131.4 Z" fill="url(#hg)"/>
<path d="M462.6 123.9 C464.2 123.2 466 123 467.4 123.8 C469 124.6 470.4 125.4 472 126 C468.6 126.4 465.6 126.6 463.4 128 C462.6 126.6 462.2 125.2 462.6 123.9 Z" fill="#256f24" opacity="0.55"/>
<path d="M475.4 126.9 C472.8 127.6 470.8 128 470.2 129 C469.6 130 471.6 130.4 470.6 131.8 L467.4 131.8 C468.8 130.6 467.2 130 468 128.8 C469 127.4 472.4 127 475.4 126.9 Z" fill="#39bfe3"/>
<text x="468.6" y="135.3" text-anchor="middle" textLength="42.5" lengthAdjust="spacingAndGlyphs" style="font-size:2.9px;font-weight:bold;fill:#1a3a8a">Ethiopian Meteorology Institute</text>
<rect x="446" y="136.4" width="45.5" height="0.9" fill="url(#lg2)"/>
<rect x="465.7" y="135.95" width="5.8" height="2.7" rx="0.8" fill="#fff" stroke="#2b3f7a" stroke-width="0.35"/>
<text x="468.6" y="138.05" text-anchor="middle" style="font-size:1.9px;font-weight:bold;fill:#2b3f7a">EMI</text>
</g>

<g stroke="#000" stroke-width="0.85" fill="none">
<rect x="60.0" y="84.7" width="450.0" height="352.4"/>
<line x1="95.3" y1="437.1" x2="95.3" y2="447.3"/>
<line x1="153.9" y1="437.1" x2="153.9" y2="447.3"/>
<line x1="212.5" y1="437.1" x2="212.5" y2="447.3"/>
<line x1="271.1" y1="437.1" x2="271.1" y2="447.3"/>
<line x1="329.7" y1="437.1" x2="329.7" y2="447.3"/>
<line x1="388.3" y1="437.1" x2="388.3" y2="447.3"/>
<line x1="446.9" y1="437.1" x2="446.9" y2="447.3"/>
<line x1="505.5" y1="437.1" x2="505.5" y2="447.3"/>
<line x1="49.8" y1="413.3" x2="60.0" y2="413.3"/>
<line x1="49.8" y1="354.5" x2="60.0" y2="354.5"/>
<line x1="49.8" y1="295.4" x2="60.0" y2="295.4"/>
<line x1="49.8" y1="236.1" x2="60.0" y2="236.1"/>
<line x1="49.8" y1="176.4" x2="60.0" y2="176.4"/>
<line x1="49.8" y1="116.3" x2="60.0" y2="116.3"/>
</g>
<text class="t" x="95.3" y="468.2" text-anchor="middle">34°E</text>
<text class="t" x="153.9" y="468.2" text-anchor="middle">36°E</text>
<text class="t" x="212.5" y="468.2" text-anchor="middle">38°E</text>
<text class="t" x="271.1" y="468.2" text-anchor="middle">40°E</text>
<text class="t" x="329.7" y="468.2" text-anchor="middle">42°E</text>
<text class="t" x="388.3" y="468.2" text-anchor="middle">44°E</text>
<text class="t" x="446.9" y="468.2" text-anchor="middle">46°E</text>
<text class="t" x="505.5" y="468.2" text-anchor="middle">48°E</text>
<text class="t" x="40.3" y="418.3" text-anchor="end">4°N</text>
<text class="t" x="40.3" y="359.5" text-anchor="end">6°N</text>
<text class="t" x="40.3" y="300.4" text-anchor="end">8°N</text>
<text class="t" x="40.3" y="241.1" text-anchor="end">10°N</text>
<text class="t" x="40.3" y="181.4" text-anchor="end">12°N</text>
<text class="t" x="40.3" y="121.3" text-anchor="end">14°N</text>
<text class="ttl" x="284.7" y="71.3" text-anchor="middle">Exceptional Rainfall for 05-06 Mar 2026</text>
<rect x="30" y="479.4" width="144" height="11.2" fill="#afeeee"/>
<text class="lg" x="50.4" y="506.6">Heavy Rainfall</text>
<rect x="192" y="479.4" width="144" height="11.2" fill="#1874cd"/>
<text class="lg" x="198.3" y="506.6">Very Heavy Rainfall</text>
<rect x="354" y="479.4" width="144" height="11.2" fill="#00008b"/>
<text class="lg" x="357.3" y="506.6">Extremely Heavy Rainfall</text>
</svg></body></html>
